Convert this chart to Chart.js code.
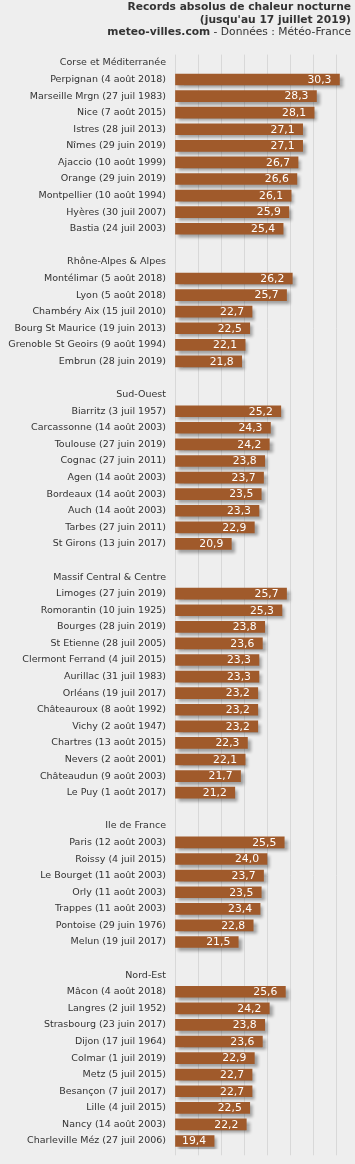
<!DOCTYPE html>
<html>
<head>
<meta charset="utf-8">
<script src="https://cdn.jsdelivr.net/npm/chart.js@4"></script>
<style>
html,body{margin:0;padding:0;background:#eeeeee;overflow:hidden;width:355px;height:1164px;}
#wrap{position:absolute;left:0;top:0;width:359px;height:1164px;}
#title{position:absolute;right:4px;top:1px;text-align:right;font-family:"DejaVu Sans",sans-serif;font-size:10.7px;line-height:12.6px;color:#333;z-index:2;white-space:nowrap;}
#title b{font-weight:bold;}
</style>
</head>
<body>
<div id="title"><b>Records absolus de chaleur nocturne</b><br><b>(jusqu'au 17 juillet 2019)</b><br><b>meteo-villes.com</b> - Données : Météo-France</div>
<div id="wrap"><canvas id="c"></canvas></div>
<script>
const groupNames = ["Corse et Méditerranée", "Rhône-Alpes & Alpes", "Sud-Ouest", "Massif Central & Centre", "Ile de France", "Nord-Est"];

const stationsCorse = ["Perpignan (4 août 2018)", "Marseille Mrgn (27 juil 1983)", "Nice (7 août 2015)", "Istres (28 juil 2013)", "Nîmes (29 juin 2019)", "Ajaccio (10 août 1999)", "Orange (29 juin 2019)", "Montpellier (10 août 1994)", "Hyères (30 juil 2007)", "Bastia (24 juil 2003)"];
const valuesCorse = [30.3, 28.3, 28.1, 27.1, 27.1, 26.7, 26.6, 26.1, 25.9, 25.4];

const stationsRhone = ["Montélimar (5 août 2018)", "Lyon (5 août 2018)", "Chambéry Aix (15 juil 2010)", "Bourg St Maurice (19 juin 2013)", "Grenoble St Geoirs (9 août 1994)", "Embrun (28 juin 2019)"];
const valuesRhone = [26.2, 25.7, 22.7, 22.5, 22.1, 21.8];

const stationsSudOuest = ["Biarritz (3 juil 1957)", "Carcassonne (14 août 2003)", "Toulouse (27 juin 2019)", "Cognac (27 juin 2011)", "Agen (14 août 2003)", "Bordeaux (14 août 2003)", "Auch (14 août 2003)", "Tarbes (27 juin 2011)", "St Girons (13 juin 2017)"];
const valuesSudOuest = [25.2, 24.3, 24.2, 23.8, 23.7, 23.5, 23.3, 22.9, 20.9];

const stationsMassif = ["Limoges (27 juin 2019)", "Romorantin (10 juin 1925)", "Bourges (28 juin 2019)", "St Etienne (28 juil 2005)", "Clermont Ferrand (4 juil 2015)", "Aurillac (31 juil 1983)", "Orléans (19 juil 2017)", "Châteauroux (8 août 1992)", "Vichy (2 août 1947)", "Chartres (13 août 2015)", "Nevers (2 août 2001)", "Châteaudun (9 août 2003)", "Le Puy (1 août 2017)"];
const valuesMassif = [25.7, 25.3, 23.8, 23.6, 23.3, 23.3, 23.2, 23.2, 23.2, 22.3, 22.1, 21.7, 21.2];

const stationsIdf = ["Paris (12 août 2003)", "Roissy (4 juil 2015)", "Le Bourget (11 août 2003)", "Orly (11 août 2003)", "Trappes (11 août 2003)", "Pontoise (29 juin 1976)", "Melun (19 juil 2017)"];
const valuesIdf = [25.5, 24.0, 23.7, 23.5, 23.4, 22.8, 21.5];

const stationsNordEst = ["Mâcon (4 août 2018)", "Langres (2 juil 1952)", "Strasbourg (23 juin 2017)", "Dijon (17 juil 1964)", "Colmar (1 juil 2019)", "Metz (5 juil 2015)", "Besançon (7 juil 2017)", "Lille (4 juil 2015)", "Nancy (14 août 2003)", "Charleville Méz (27 juil 2006)"];
const valuesNordEst = [25.6, 24.2, 23.8, 23.6, 22.9, 22.7, 22.7, 22.5, 22.2, 19.4];

const axisMin = 16, axisMax = 32, axisStep = 2;

const groupStations = [stationsCorse, stationsRhone, stationsSudOuest, stationsMassif, stationsIdf, stationsNordEst];
const groupValues = [valuesCorse, valuesRhone, valuesSudOuest, valuesMassif, valuesIdf, valuesNordEst];

const labels = [];
const values = [];
groupNames.forEach((g, i) => {
  if (i > 0) { labels.push(""); values.push(null); }
  labels.push(g); values.push(null);
  groupStations[i].forEach((s, j) => { labels.push(s); values.push(groupValues[i][j]); });
});

const fontFamily = '"DejaVu Sans", Verdana, sans-serif';

const barExtras = {
  id: 'barExtras',
  beforeDatasetsDraw(chart) {
    const ctx = chart.ctx;
    ctx.save();
    ctx.shadowColor = 'rgba(0,0,0,0.33)';
    ctx.shadowBlur = 3;
    ctx.shadowOffsetX = 3;
    ctx.shadowOffsetY = 3;
  },
  afterDatasetsDraw(chart) {
    const ctx = chart.ctx;
    ctx.restore();
    ctx.save();
    ctx.font = '10.8px ' + fontFamily;
    ctx.fillStyle = '#ffffff';
    ctx.textAlign = 'right';
    ctx.textBaseline = 'middle';
    const meta = chart.getDatasetMeta(0);
    meta.data.forEach((bar, i) => {
      const v = values[i];
      if (v === null) return;
      ctx.fillText(v.toFixed(1).replace('.', ','), bar.x - 8, bar.y + 0.5);
    });
    ctx.restore();
  }
};

new Chart(document.getElementById('c'), {
  type: 'bar',
  data: {
    labels: labels,
    datasets: [{
      data: values,
      backgroundColor: '#a05a2b',
      borderWidth: 0,
      barThickness: 11,
      base: axisMin
    }]
  },
  options: {
    indexAxis: 'y',
    responsive: true,
    maintainAspectRatio: false,
    animation: false,
    layout: { padding: { top: 54.6, right: 0, left: 0, bottom: 0 } },
    plugins: { legend: { display: false }, tooltip: { enabled: false } },
    scales: {
      x: {
        min: axisMin, max: axisMax,
        position: 'bottom',
        ticks: { display: false, stepSize: axisStep },
        grid: { color: '#d8d8d8', lineWidth: 1, drawTicks: true, tickLength: 6 },
        border: { display: false },
        afterFit(scale) { scale.height = 6; }
      },
      y: {
        ticks: { color: '#333333', font: { family: fontFamily, size: 9.5 }, padding: 9, autoSkip: false },
        grid: { display: false, drawTicks: false },
        border: { display: false },
        afterFit(scale) { scale.width = 175; }
      }
    }
  },
  plugins: [barExtras]
});
</script>
</body>
</html>
